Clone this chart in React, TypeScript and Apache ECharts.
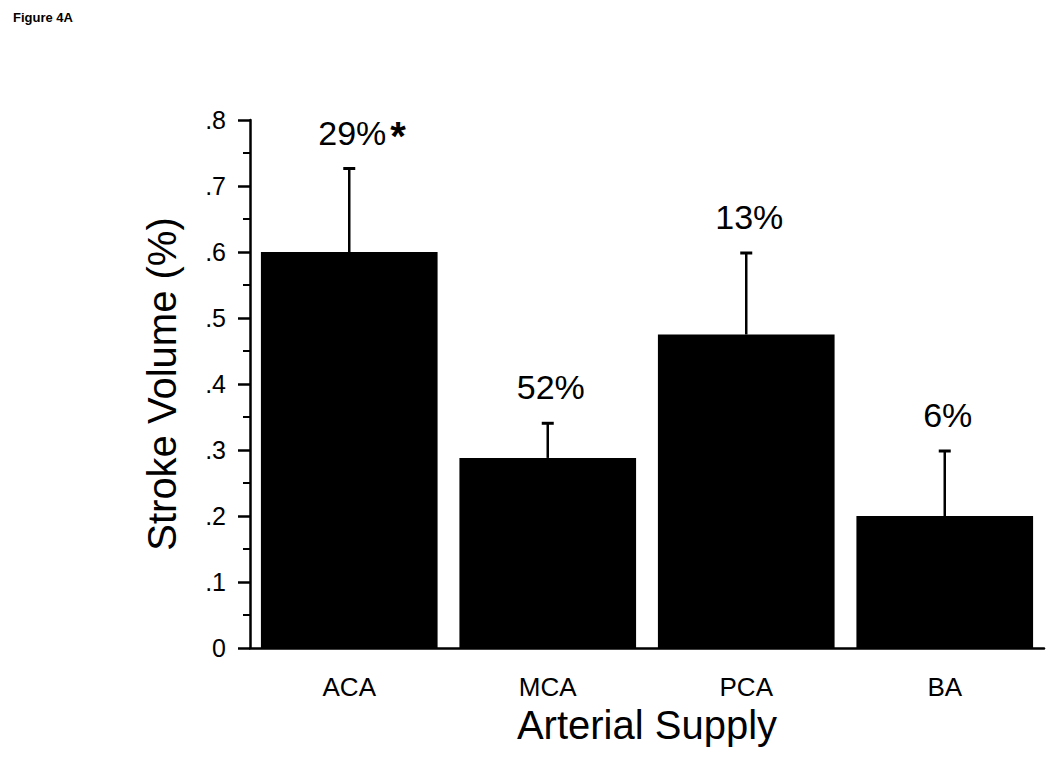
import React, { useEffect, useRef } from "react";
import * as echarts from "echarts";

const categories = ["ACA", "MCA", "PCA", "BA"];
const strokeVolume = [0.6, 0.288, 0.475, 0.2];
const errorTop = [0.728, 0.342, 0.6, 0.3];
const pctLabels = ["29%", "52%", "13%", "6%"];
const significance = ["*", "", "", ""];
const yTicks = [0, 0.1, 0.2, 0.3, 0.4, 0.5, 0.6, 0.7, 0.8];

const FONT = "'Liberation Sans', Arial, sans-serif";

export default function App() {
  const ref = useRef<HTMLDivElement>(null);
  useEffect(() => {
    if (!ref.current) return;
    const chart = echarts.init(ref.current, undefined, { renderer: "svg" });
    chart.setOption({
      animation: false,
      backgroundColor: "#ffffff",
      title: {
        text: "Figure 4A",
        left: 8,
        top: 6,
        textStyle: { fontFamily: FONT, fontSize: 13, fontWeight: "bold", color: "#000" },
      },
      grid: { left: 250, right: 6, top: 120, bottom: 114, containLabel: false },
      xAxis: {
        type: "category",
        data: categories,
        name: "Arterial Supply",
        nameLocation: "middle",
        nameGap: 56,
        nameTextStyle: { fontFamily: FONT, fontSize: 40, color: "#000" },
        axisLine: { lineStyle: { color: "#000", width: 2.5 } },
        axisTick: { show: false },
        axisLabel: { fontFamily: FONT, fontSize: 26, color: "#000", margin: 26 },
      },
      yAxis: {
        type: "value",
        min: 0,
        max: 0.8,
        interval: 0.1,
        name: "Stroke Volume (%)",
        nameLocation: "middle",
        nameGap: 68,
        nameTextStyle: { fontFamily: FONT, fontSize: 40, color: "#000" },
        splitLine: { show: false },
        axisLine: { show: true, lineStyle: { color: "#000", width: 2.5 } },
        axisTick: { show: true, length: 12, lineStyle: { color: "#000", width: 2.5 } },
        minorTick: { show: true, splitNumber: 2, length: 7, lineStyle: { color: "#000", width: 2 } },
        axisLabel: {
          fontFamily: FONT,
          fontSize: 25,
          color: "#000",
          margin: 24,
          formatter: (v: number) => {
            const t = yTicks.find((y) => Math.abs(y - v) < 1e-9);
            const val = t === undefined ? v : t;
            return val === 0 ? "0" : val.toFixed(1).replace(/^0/, "");
          },
        },
      },
      series: [
        {
          type: "bar",
          data: strokeVolume,
          barCategoryGap: "11%",
          itemStyle: { color: "#000" },
          z: 2,
        },
        {
          type: "custom",
          z: 3,
          data: categories.map((_, i) => [i, strokeVolume[i], errorTop[i]]),
          renderItem: (params: any, api: any) => {
            const i = params.dataIndex;
            const base = api.coord([api.value(0), api.value(1)]);
            const top = api.coord([api.value(0), api.value(2)]);
            const x = base[0];
            const children: any[] = [
              {
                type: "line",
                shape: { x1: x, y1: base[1], x2: x, y2: top[1] },
                style: { stroke: "#000", lineWidth: 2.5 },
              },
              {
                type: "line",
                shape: { x1: x - 6, y1: top[1] + 1, x2: x + 6, y2: top[1] + 1 },
                style: { stroke: "#000", lineWidth: 3 },
              },
              {
                type: "text",
                x: x + 3,
                y: top[1] - 18,
                style: {
                  text: pctLabels[i],
                  fontFamily: FONT,
                  fontSize: 34,
                  fill: "#000",
                  align: "center",
                  verticalAlign: "bottom",
                },
              },
            ];
            if (significance[i]) {
              children.push({
                type: "text",
                x: x + 41,
                y: top[1] - 52,
                style: {
                  text: significance[i],
                  fontFamily: FONT,
                  fontSize: 40,
                  fontWeight: "bold",
                  fill: "#000",
                  align: "left",
                  verticalAlign: "top",
                },
              });
            }
            return { type: "group", children };
          },
        },
      ],
    });
    return () => chart.dispose();
  }, []);
  return (
    <div
      ref={ref}
      style={{ position: "fixed", left: 0, top: 0, width: 1050, height: 762, background: "#fff" }}
    />
  );
}
